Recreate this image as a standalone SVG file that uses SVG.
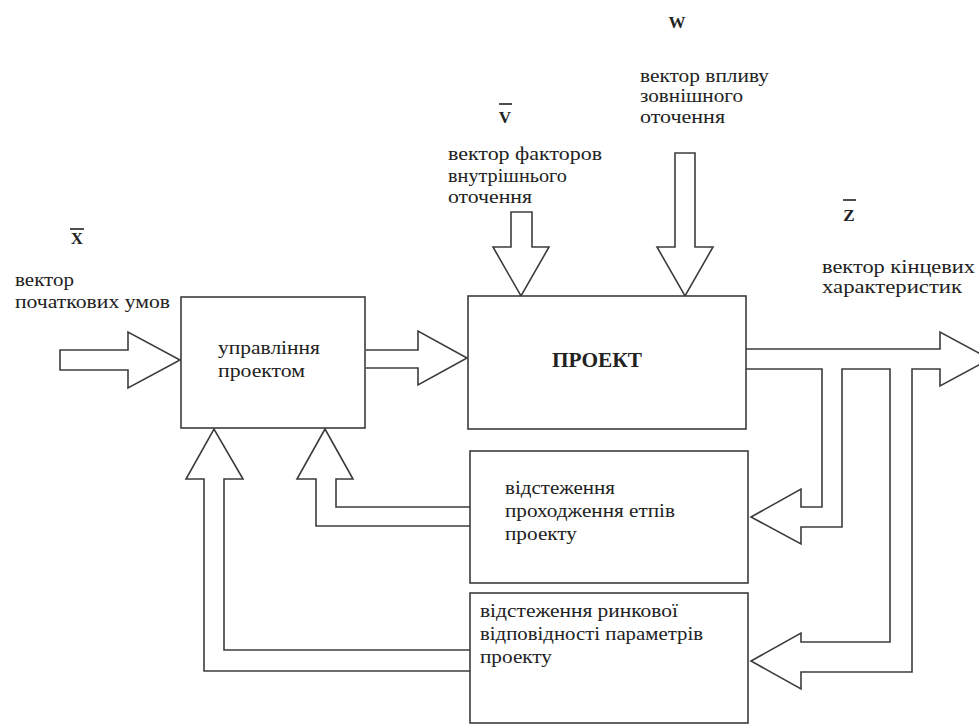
<svg xmlns="http://www.w3.org/2000/svg" width="979" height="726" viewBox="0 0 979 726" font-family="Liberation Serif, DejaVu Serif, serif">
<style>
.box{fill:#fff;stroke:#3c3c3c;stroke-width:1.6}
.arr{fill:#fff;stroke:#3c3c3c;stroke-width:1.6;stroke-linejoin:miter}
text{font-family:Liberation Serif, DejaVu Serif, serif}
.t{font-size:19px;fill:#222}
.b{font-weight:bold;fill:#222}
.bar{stroke:#222;stroke-width:1.6}
</style>
<rect width="979" height="726" fill="#fff"/>
<g id="labels">
  <g id="label-x">
    <line class="bar" x1="70" y1="229" x2="84" y2="229"/>
    <text class="b" x="77" y="244" font-size="17" text-anchor="middle">X</text>
    <text class="t" x="15" y="286" textLength="59" lengthAdjust="spacingAndGlyphs">вектор</text>
    <text class="t" x="15" y="308" textLength="155" lengthAdjust="spacingAndGlyphs">початкових умов</text>
  </g>
  <g id="label-v">
    <line class="bar" x1="499" y1="104" x2="512" y2="104"/>
    <text class="b" x="505" y="123" font-size="17" text-anchor="middle">V</text>
    <text class="t" x="448" y="160" textLength="154" lengthAdjust="spacingAndGlyphs">вектор факторов</text>
    <text class="t" x="448" y="182" textLength="119" lengthAdjust="spacingAndGlyphs">внутрішнього</text>
    <text class="t" x="448" y="203" textLength="84" lengthAdjust="spacingAndGlyphs">оточення</text>
  </g>
  <g id="label-w">
    <text class="b" x="677" y="28" font-size="17" text-anchor="middle">W</text>
    <text class="t" x="640" y="82" textLength="129" lengthAdjust="spacingAndGlyphs">вектор впливу</text>
    <text class="t" x="640" y="102" textLength="103" lengthAdjust="spacingAndGlyphs">зовнішного</text>
    <text class="t" x="640" y="123" textLength="85" lengthAdjust="spacingAndGlyphs">оточення</text>
  </g>
  <g id="label-z">
    <line class="bar" x1="843" y1="200" x2="856" y2="200"/>
    <text class="b" x="849" y="221" font-size="17" text-anchor="middle">Z</text>
    <text class="t" x="822" y="273" textLength="153" lengthAdjust="spacingAndGlyphs">вектор кінцевих</text>
    <text class="t" x="822" y="293" textLength="140" lengthAdjust="spacingAndGlyphs">характеристик</text>
  </g>
</g>
<g id="connectors">
  <polygon class="arr" points="60,350 128,350 128,332 180,360 128,388 128,370 60,370"/>
  <polyline class="arr" points="366,350 418,350 418,331 467,358 418,385 418,368 366,368"/>
  <polygon class="arr" points="511,212 532,212 532,247 549,247 521,296 493,247 511,247"/>
  <polygon class="arr" points="675,153 695,153 695,247 713,247 685,296 657,247 675,247"/>
  <polyline class="arr" points="746,349 940,349 940,332 990,359 940,386 940,369 912,369 912,672 801,672 801,689 751,661 801,633 801,642 890,642 890,369 842,369 842,527 801,527 801,544 751,517 801,489 801,507 822,507 822,369 746,369"/>
  <polyline class="arr" points="470,507 336,507 336,479 353,479 325,429 297,479 316,479 316,526 470,526"/>
  <polyline class="arr" points="470,650 224,650 224,479 243,479 214,429 186,479 204,479 204,671 470,671"/>
</g>
<g id="node-control">
  <rect class="box" x="181" y="297" width="184" height="131"/>
  <text class="t" x="218" y="354" textLength="102" lengthAdjust="spacingAndGlyphs">управління</text>
  <text class="t" x="218" y="377" textLength="87" lengthAdjust="spacingAndGlyphs">проектом</text>
</g>
<g id="node-project">
  <rect class="box" x="468" y="296" width="278" height="133"/>
  <text class="b" x="552" y="367" font-size="21" textLength="90" lengthAdjust="spacingAndGlyphs">ПРОЕКТ</text>
</g>
<g id="node-stages">
  <rect class="box" x="470" y="451" width="278" height="132"/>
  <text class="t" x="505" y="494" textLength="110" lengthAdjust="spacingAndGlyphs">відстеження</text>
  <text class="t" x="505" y="517" textLength="170" lengthAdjust="spacingAndGlyphs">проходження етпів</text>
  <text class="t" x="505" y="540" textLength="72" lengthAdjust="spacingAndGlyphs">проекту</text>
</g>
<g id="node-market">
  <rect class="box" x="470" y="593" width="278" height="130"/>
  <text class="t" x="480" y="617" textLength="198" lengthAdjust="spacingAndGlyphs">відстеження ринкової</text>
  <text class="t" x="480" y="640" textLength="223" lengthAdjust="spacingAndGlyphs">відповідності параметрів</text>
  <text class="t" x="480" y="663" textLength="72" lengthAdjust="spacingAndGlyphs">проекту</text>
</g>
</svg>
